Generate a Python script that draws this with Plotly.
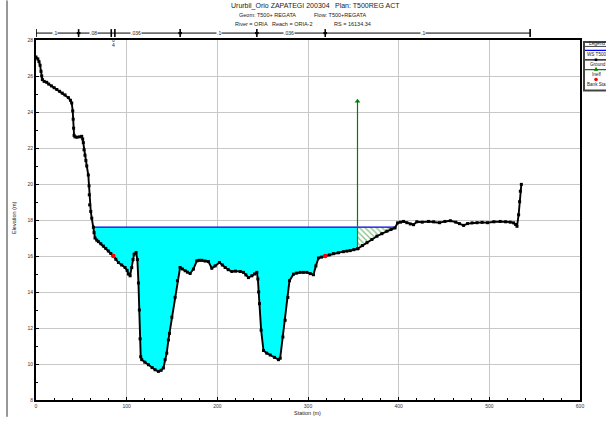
import numpy as np
import plotly.graph_objects as go

# ---------------- data ----------------
ground_sta = [0, 2, 3.3, 4.5, 5.5, 6.3, 7, 9, 11.8, 14, 17, 20, 23, 26, 29, 32, 35.7, 38, 39.4,
              40.5, 41, 41.5, 42, 43, 45, 48, 50.4, 51.5, 52.2, 53, 54, 55, 56, 57.7, 58.5, 58.8,
              59.2, 60.4, 61.5, 63.3, 64, 65.1, 67, 68.8, 71.5, 74.3, 77, 79.8, 82.5, 85.3, 88,
              90.9, 94.5, 98.2, 100.5, 101.9, 103.8, 105.6, 107, 108.2, 110.4, 111.8, 113, 114,
              114.8, 115.5, 116.6, 120, 124, 128, 131.3, 135, 138, 140.5, 142.4, 144.2, 146,
              147.2, 149.8, 153.4, 156, 158.9, 161.5, 164.5, 167, 170, 173.6, 177.4, 180, 182.9,
              186.5, 190.2, 193.9, 197.6, 202.3, 205.5, 208.6, 212, 216, 220, 225.2, 228.8, 231.5,
              234.3, 238.1, 241, 243.6, 244.7, 245.6, 246.5, 248.3, 250.9, 254.5, 258.3, 263,
              267.4, 269.3, 272.3, 274.8, 277.8, 279.6, 284, 287.5, 291.4, 295, 298.8, 302.5, 306,
              308.7, 311.6, 315, 319, 323.5, 328, 333.5, 339, 343, 346.6, 350.5, 354.6, 360, 365,
              370.5, 376, 381.5, 387, 391.5, 396, 398.8, 402, 405.4, 409, 412.8, 416.4, 420, 426,
              433, 438.6, 445, 451, 457, 463, 467, 471.6, 476, 481, 486.4, 492, 498, 505, 512, 518,
              523, 526.8, 529, 530.5, 532.3, 533.4, 534.2, 535.3]
ground_elev = [27.05, 26.95, 26.8, 26.6, 26.26, 26.0, 25.8, 25.7, 25.65, 25.55, 25.45, 25.35, 25.25,
               25.15, 25.05, 24.95, 24.8, 24.65, 24.5, 24.06, 23.6, 23.1, 22.7, 22.62, 22.6, 22.62,
               22.65, 22.5, 22.3, 21.9, 21.6, 21.3, 21.0, 20.5, 19.9, 19.4, 18.84, 18.47, 18.1, 17.6,
               17.3, 17.0, 16.88, 16.8, 16.68, 16.55, 16.42, 16.28, 16.14, 16.0, 15.82, 15.64, 15.5,
               15.36, 15.2, 15.0, 14.9, 15.36, 15.8, 16.1, 16.19, 15.8, 14.5, 13.0, 11.4, 10.4,
               10.24, 10.1, 9.96, 9.8, 9.68, 9.59, 9.65, 9.78, 10.24, 10.6, 11.33, 11.7, 12.6, 13.7,
               14.63, 15.36, 15.28, 15.18, 15.1, 15.03, 15.27, 15.73, 15.76, 15.76, 15.72, 15.69,
               15.32, 15.45, 15.64, 15.5, 15.36, 15.24, 15.14, 15.16, 15.14, 15.09, 14.95, 14.8,
               14.9, 15.0, 15.09, 14.72, 14.0, 13.35, 11.88, 10.75, 10.6, 10.5, 10.37, 10.24, 10.32,
               11.5, 12.43, 13.7, 14.63, 14.99, 15.05, 15.09, 15.09, 15.09, 15.02, 14.96, 15.45,
               15.89, 15.94, 16.0, 16.06, 16.13, 16.18, 16.24, 16.27, 16.3, 16.35, 16.4, 16.58,
               16.74, 16.92, 17.1, 17.24, 17.38, 17.47, 17.56, 17.84, 17.88, 17.92, 17.85, 17.78,
               17.74, 17.9, 17.88, 17.92, 17.9, 17.85, 17.92, 17.96, 17.88, 17.8, 17.7, 17.8, 17.84,
               17.85, 17.87, 17.85, 17.9, 17.92, 17.9, 17.88, 17.84, 17.75, 17.65, 18.29, 19.02,
               19.6, 19.98]
ws_elev = 17.6
bank_sta = [85.3, 319]
bank_elev = [16.0, 16.0]
ineff_sta = 354.6
ineff_top = 24.6
n_break_sta = [0, 47, 83, 87, 159, 243.6, 319, 545]
n_labels = [".1", ".08", ".036", ".1", ".036", ".1"]
n_label_sta = [21, 63, 110, 201.7, 279, 427]
title_lines = ["Ururbil_Orio ZAPATEGI 200304", "Plan: T500REG ACT",
               "Geom: T500+ REGATA", "Flow: T500+REGATA",
               "River = ORIA", "Reach = ORIA-2", "RS = 16134.34"]
legend_items = ["WS T500", "Ground", "Ineff", "Bank Sta"]

# ---------------- derived geometry ----------------
gs = np.array(ground_sta, float)
ge = np.array(ground_elev, float)

def crossing(i0, direction):
    i = i0
    while 0 <= i + direction < len(gs):
        j = i + direction
        if (ge[i] - ws_elev) * (ge[j] - ws_elev) <= 0 and ge[i] != ge[j]:
            return gs[i] + (ws_elev - ge[i]) * (gs[j] - gs[i]) / (ge[j] - ge[i])
        i = j
    return gs[i]

i_min = int(np.argmin(ge))
x_left = crossing(i_min, -1)
i_in = int(np.argmin(np.abs(gs - ineff_sta)))
x_right = crossing(i_in, 1)
ineff_ground = float(np.interp(ineff_sta, gs, ge))

m1 = (gs > x_left) & (gs < ineff_sta)
cy_x = [x_left] + list(gs[m1]) + [ineff_sta, ineff_sta, x_left]
cy_y = [ws_elev] + list(ge[m1]) + [ineff_ground, ws_elev, ws_elev]

m2 = (gs > ineff_sta) & (gs < x_right)
h_x = [ineff_sta] + list(gs[m2]) + [x_right, ineff_sta]
h_y = [ineff_ground] + list(ge[m2]) + [ws_elev, ws_elev]

# ---------------- figure ----------------
W, H = 606, 421
L, R, T, B = 36, 26, 40, 17
pw, ph = W - L - R, H - T - B

def px(x):
    return (x - L) / pw

def py(y):
    return (H - B - y) / ph

fig = go.Figure()
fig.add_trace(go.Scatter(x=cy_x, y=cy_y, fill="toself", fillcolor="#00ffff",
                         line=dict(width=0), mode="lines", hoverinfo="skip"))
fig.add_trace(go.Scatter(x=h_x, y=h_y, fill="toself", mode="lines", line=dict(width=0),
                         fillcolor="rgba(255,255,255,0)",
                         fillpattern=dict(shape="\\", fgcolor="#008000", bgcolor="white",
                                          size=4, solidity=0.3),
                         hoverinfo="skip"))
fig.add_trace(go.Scatter(x=[x_left, x_right], y=[ws_elev, ws_elev], mode="lines",
                         line=dict(color="#0000e0", width=1.3)))
fig.add_trace(go.Scatter(x=[ineff_sta, ineff_sta], y=[ineff_ground, ineff_top],
                         mode="lines+markers", line=dict(color="#008000", width=1.2),
                         marker=dict(symbol="triangle-up", size=5, color="#008000")))
fig.add_trace(go.Scatter(x=ground_sta, y=ground_elev, mode="lines+markers",
                         line=dict(color="black", width=1.9),
                         marker=dict(symbol="square", size=3, color="black")))
fig.add_trace(go.Scatter(x=bank_sta, y=bank_elev, mode="markers",
                         marker=dict(symbol="circle", size=4.5, color="#ff0000")))

shapes = []
ann = []
tf = dict(family="Liberation Sans, Arial", color="#222222")

def A(x, y, text, size=5, xref="paper", yref="paper", xanchor="center", **kw):
    ann.append(dict(x=x, y=y, xref=xref, yref=yref, text=text, showarrow=False,
                    xanchor=xanchor, yanchor="middle", font=dict(size=size, **tf), **kw))

# Manning's n bar
ybar = py(33)
shapes.append(dict(type="line", xref="x", yref="paper", x0=n_break_sta[0], x1=n_break_sta[-1],
                   y0=ybar, y1=ybar, line=dict(color="black", width=1)))
for s in n_break_sta:
    shapes.append(dict(type="line", xref="x", yref="paper", x0=s, x1=s, y0=py(29), y1=py(37),
                       line=dict(color="black", width=1.6)))
for s in n_break_sta[1:-1]:
    if s in (83, 87):
        continue
    shapes.append(dict(type="line", xref="x", yref="paper", x0=s - 2, x1=s + 2, y0=ybar, y1=ybar,
                       line=dict(color="black", width=2.2)))
for lab, s in zip(n_labels, n_label_sta):
    A(s, ybar, lab, xref="x", bgcolor="white", borderpad=0)
A(85, py(40.5), "0", xref="x")
A(85, py(45), "4", xref="x")

# title
title_pos = [(229, 5.5, 7), (333, 5.5, 7), (237, 15, 5.5), (311.7, 15, 5.5),
             (233, 23.5, 5.5), (270, 23.5, 5.5), (331.7, 23.5, 5.5)]
for txt, (x, y, sz) in zip(title_lines, title_pos):
    A(px(x), py(y), txt, size=sz, xanchor="left")

# axis titles
A(px(307), py(417.5), "Station (m)", size=5.5)
A(px(14), py(220), "Elevation (m)", size=5.5, textangle=-90)

# window frame line at left
shapes.append(dict(type="line", xref="paper", yref="paper", x0=px(7), x1=px(7), y0=py(421), y1=py(0),
                   line=dict(color="#333333", width=1)))

# legend box (cut by the page edge)
shapes.append(dict(type="rect", xref="paper", yref="paper", x0=px(584), x1=px(640),
                   y0=py(91), y1=py(42), line=dict(color="#444444", width=2), fillcolor="white"))
shapes.append(dict(type="line", xref="paper", yref="paper", x0=px(584), x1=px(640),
                   y0=py(46.5), y1=py(46.5), line=dict(color="#444444", width=1)))
lx = 596
A(px(597), py(43.8), "Legend", size=4.8)
shapes.append(dict(type="line", xref="paper", yref="paper", x0=px(585), x1=px(640),
                   y0=py(50.5), y1=py(50.5), line=dict(color="#0000ff", width=1.2)))
shapes.append(dict(type="line", xref="paper", yref="paper", x0=px(585), x1=px(640),
                   y0=py(60), y1=py(60), line=dict(color="black", width=1.2)))
shapes.append(dict(type="rect", xref="paper", yref="paper", x0=px(lx - 1.3), x1=px(lx + 1.3),
                   y0=py(61.3), y1=py(58.7), line=dict(width=0), fillcolor="black"))
shapes.append(dict(type="line", xref="paper", yref="paper", x0=px(585), x1=px(640),
                   y0=py(70), y1=py(70), line=dict(color="#008000", width=1.2)))
shapes.append(dict(type="path", xref="paper", yref="paper",
                   path=f"M {px(lx-2.2)},{py(71)} L {px(lx+2.2)},{py(71)} L {px(lx)},{py(67)} Z",
                   line=dict(width=0), fillcolor="#008000"))
shapes.append(dict(type="circle", xref="paper", yref="paper", x0=px(lx - 1.8), x1=px(lx + 1.8),
                   y0=py(81.8), y1=py(78.2), line=dict(width=0), fillcolor="#ff0000"))
for txt, (x, y) in zip(legend_items, [(585, 55), (587.5, 64.5), (590, 74.7), (585, 85.3)]):
    A(px(x), py(y), txt, size=4.6, xanchor="left")

axis_common = dict(showline=True, linecolor="black", linewidth=1.8, mirror=True,
                   showgrid=True, gridcolor="#c8c8c8", gridwidth=1, zeroline=False,
                   ticks="inside", ticklen=3, tickcolor="black",
                   tickfont=dict(size=5, family="Liberation Sans, Arial", color="#333333"))
fig.update_layout(
    width=W, height=H, autosize=False,
    margin=dict(l=L, r=R, t=T, b=B, pad=0),
    paper_bgcolor="white", plot_bgcolor="white",
    showlegend=False,
    xaxis=dict(range=[0, 600], dtick=100, tick0=0,
               minor=dict(dtick=20, ticks="inside", ticklen=2, showgrid=False, tickcolor="black"),
               **axis_common),
    yaxis=dict(range=[8, 28], dtick=2, tick0=8,
               minor=dict(dtick=1, ticks="inside", ticklen=2, showgrid=False, tickcolor="black"),
               **axis_common),
    shapes=shapes, annotations=ann,
)
fig.write_html(
    "out.html",
    config={"displayModeBar": False},
    post_script="document.body.style.margin='0';document.body.style.overflow='hidden';"
                "document.documentElement.style.overflow='hidden';window.scrollTo(0,0);",
)
